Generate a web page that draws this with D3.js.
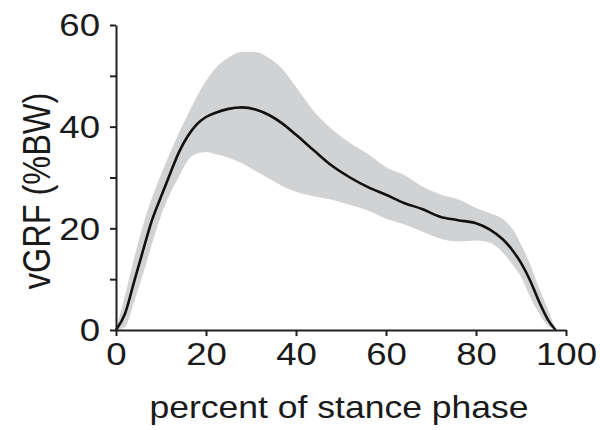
<!DOCTYPE html>
<html>
<head>
<meta charset="utf-8">
<script src="https://cdn.jsdelivr.net/npm/d3@7"></script>
<style>
  html, body { margin: 0; padding: 0; background: #fff; }
  svg { display: block; }
  text { font-family: "Liberation Sans", Arial, Helvetica, sans-serif; fill: #1a1a1a; }
</style>
</head>
<body>
<svg id="chart" width="600" height="430"></svg>
<script>
// ---- data ----
const stancePct = [0, 2, 4, 6, 8, 10, 12, 14, 16, 18, 20, 22, 25, 28, 31, 34, 37, 40, 44, 48, 52, 56, 60, 64, 68, 72, 76, 80, 83, 86, 88, 90, 92, 94, 96, 97.7];
const meanGRF  = [0, 3.2, 9.4, 15.6, 21.6, 26.2, 30.7, 35, 38.2, 40.5, 41.9, 42.7, 43.5, 43.8, 43.4, 42.3, 40.6, 38.4, 35.3, 32.3, 30.0, 28.1, 26.6, 25.0, 23.8, 22.3, 21.6, 21.0, 19.8, 17.8, 15.8, 13.2, 9.8, 5.6, 2.0, 0];
const upperGRF = [0, 6.8, 14, 20.6, 26, 30.6, 34.8, 38.8, 42.5, 46, 49, 51.4, 53.6, 54.7, 54.7, 53.5, 51.3, 47.8, 43, 39.5, 36.8, 34.6, 32.0, 30.5, 28.3, 26.7, 25.7, 24.0, 23.0, 21.8, 20.0, 16.8, 13.0, 8.3, 4.0, 0];
const lowerGRF = [0, 0.6, 5.5, 11, 17, 22.5, 26.8, 30.2, 33.4, 34.7, 35, 34.6, 33.9, 32.8, 31.3, 29.8, 28.3, 27.2, 26.3, 25.6, 24.6, 23.5, 21.9, 20.8, 19.4, 18.0, 17.4, 17.6, 17.2, 15.2, 13.0, 10.5, 6.6, 3.3, 0.8, 0];
const xTicks = [0, 20, 40, 60, 80, 100];
const yTicks = [0, 10, 20, 30, 40, 50, 60];
const yTickLabels = ["0", "", "20", "", "40", "", "60"];
const xTitle = "percent of stance phase";
const yTitle = "vGRF (%BW)";

const svg = d3.select("#chart");
const x = d3.scaleLinear().domain([0, 100]).range([116, 566]);
const y = d3.scaleLinear().domain([0, 60]).range([330, 25]);

const pts = stancePct.map((p, i) => ({ p, m: meanGRF[i], hi: upperGRF[i], lo: lowerGRF[i] }));

svg.append("path")
  .datum(pts)
  .attr("fill", "#d1d2d4")
  .attr("stroke", "none")
  .attr("d", d3.area().curve(d3.curveMonotoneX)
    .x(d => x(d.p)).y0(d => y(d.lo)).y1(d => y(d.hi)));

svg.append("path")
  .datum(pts)
  .attr("fill", "none")
  .attr("stroke", "#111")
  .attr("stroke-width", 2.6)
  .attr("stroke-linejoin", "round")
  .attr("d", d3.line().curve(d3.curveMonotoneX).x(d => x(d.p)).y(d => y(d.m)));

const stretch = 1.2;
const xAxis = svg.append("g")
  .attr("transform", "translate(0,330)")
  .call(d3.axisBottom(x).tickValues(xTicks).tickSize(6).tickSizeOuter(0).tickPadding(7).tickFormat(d3.format("d")));
const yAxis = svg.append("g")
  .attr("transform", "translate(116,0)")
  .call(d3.axisLeft(y).tickValues(yTicks).tickSize(6).tickSizeOuter(0).tickPadding(10)
    .tickFormat((d, i) => yTickLabels[i]));

[xAxis, yAxis].forEach(g => {
  g.select(".domain").attr("stroke", "#231f20").attr("stroke-width", 2);
  g.selectAll(".tick line").attr("stroke", "#231f20").attr("stroke-width", 2);
  g.selectAll(".tick text").attr("font-size", 30.5).attr("fill", "#1a1a1a")
    .attr("font-family", "'Liberation Sans', Arial, sans-serif")
    .attr("transform", `scale(${stretch},1)`);
});
yAxis.selectAll(".tick text").attr("x", -16 / stretch).attr("dy", "0.36em");

svg.append("text")
  .attr("transform", "translate(339,418) scale(1.11,1)")
  .attr("text-anchor", "middle")
  .attr("font-size", 32)
  .text(xTitle);

svg.append("text")
  .attr("transform", "translate(50,191) rotate(-90) scale(1,1.18)")
  .attr("text-anchor", "middle")
  .attr("font-size", 32.5)
  .text(yTitle);
</script>
</body>
</html>
